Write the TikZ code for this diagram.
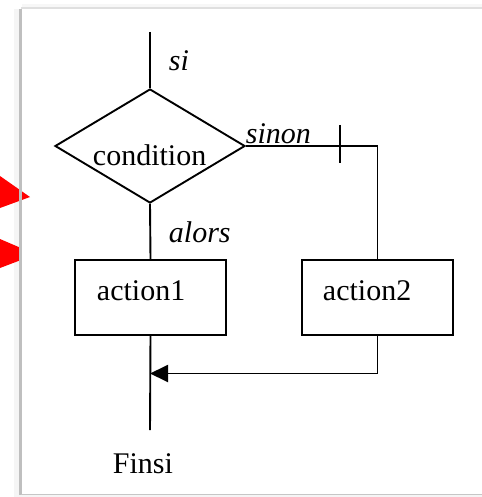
\documentclass[tikz,border=0pt]{standalone}
\usepackage{fontspec}
\setmainfont{Liberation Serif}
\usetikzlibrary{shapes.geometric,arrows.meta}
\begin{document}
\begin{tikzpicture}[x=1pt,y=-1pt,
  line width=1.9pt,
  lbl/.style={inner sep=0pt,anchor=base west,font=\fontsize{30}{34}\selectfont},
  ilbl/.style={lbl,font=\fontsize{30}{34}\selectfont\itshape},
  actbox/.style={draw,rectangle,minimum width=151pt,minimum height=75pt,inner sep=0pt},
  decision/.style={draw,diamond,aspect=1.667,minimum width=190pt,minimum height=114pt,inner sep=0pt},
  marker/.style={fill=red,draw=none}]
\useasboundingbox (0,0) rectangle (481,497);
% frame
\fill[white] (0,0) rectangle (481,497);
\fill[gray!6] (22,4) rectangle (485,9);
\fill[gray!8] (14,9) rectangle (21,497);
\fill[gray!8] (21,494) rectangle (485,497);
\fill[white] (22,9) rectangle (485,493);
% red markers
\fill[marker] (0,176) -- (30,197) -- (0,208) -- cycle;
\fill[marker] (0,239) -- (21,248) -- (21,260) -- (0,268) -- cycle;
% frame edges
\draw[gray!50,line width=2.5pt] (20.5,9) -- (20.5,495);
\draw[gray!25,line width=1.2pt] (21,8) -- (485,8);
\draw[gray!45,line width=1.5pt] (21,494.5) -- (485,494.5);
% nodes
\node[decision] (cond) at (150,146) {};
\node[lbl] (condtxt) at (92,165) {condition};
\node[actbox] (a1) at (150.5,297.5) {};
\node[actbox] (a2) at (377.5,297.5) {};
\node[lbl] (a1txt) at (96,300) {action1};
\node[lbl] (a2txt) at (322,300) {action2};
\node[ilbl] (si) at (168,71) {si};
\node[ilbl] (sinon) at (245,144) {sinon};
\node[ilbl] (alors) at (168,242) {alors};
\node[lbl] (finsi) at (112,473) {Finsi};
\coordinate (start) at (150,32);
\coordinate (finish) at (150,430);
\coordinate (merge) at (150,373.5);
\coordinate (t1) at (340,125);
\coordinate (t2) at (340,163);
% connectors
\draw (start) -- (cond.north);
\draw (cond.south) -- (a1.north);
\draw (cond.east) -| (a2.north);
\draw (t1) -- (t2);
\draw (a1.south) -- (finish);
\draw[-{Triangle[length=18pt,width=17pt]}] (a2.south) |- (merge);
\end{tikzpicture}
\end{document}
